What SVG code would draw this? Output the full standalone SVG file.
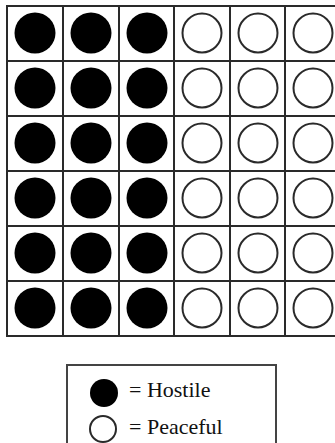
<svg xmlns="http://www.w3.org/2000/svg" width="335" height="443" viewBox="0 0 335 443">
<defs>
<style>
.grid{stroke:#2a2a2a;stroke-width:2;fill:none}
.h{fill:#000}
.p{fill:#fff;stroke:#2a2a2a;stroke-width:2}
.t{font-family:"Liberation Serif","Times New Roman",serif;font-size:22px;fill:#111}
</style>
<circle id="hc" r="20.5" class="h"/>
<circle id="pc" r="19.5" class="p"/>
</defs>
<rect width="335" height="443" fill="#fff"/>
<g id="grid">
<rect class="grid" x="7" y="6" width="334" height="330"/>
<path class="grid" d="M63 6V336M119 6V336M174 6V336M230 6V336M285 6V336M7 61H341M7 116H341M7 171H341M7 226H341M7 281H341"/>
</g>
<g id="hostile">
<use href="#hc" x="35" y="33"/><use href="#hc" x="91" y="33"/><use href="#hc" x="147" y="33"/>
<use href="#hc" x="35" y="88"/><use href="#hc" x="91" y="88"/><use href="#hc" x="147" y="88"/>
<use href="#hc" x="35" y="143"/><use href="#hc" x="91" y="143"/><use href="#hc" x="147" y="143"/>
<use href="#hc" x="35" y="198"/><use href="#hc" x="91" y="198"/><use href="#hc" x="147" y="198"/>
<use href="#hc" x="35" y="253"/><use href="#hc" x="91" y="253"/><use href="#hc" x="147" y="253"/>
<use href="#hc" x="35" y="308"/><use href="#hc" x="91" y="308"/><use href="#hc" x="147" y="308"/>
</g>
<g id="peaceful">
<use href="#pc" x="202" y="33"/><use href="#pc" x="258" y="33"/><use href="#pc" x="313" y="33"/>
<use href="#pc" x="202" y="88"/><use href="#pc" x="258" y="88"/><use href="#pc" x="313" y="88"/>
<use href="#pc" x="202" y="143"/><use href="#pc" x="258" y="143"/><use href="#pc" x="313" y="143"/>
<use href="#pc" x="202" y="198"/><use href="#pc" x="258" y="198"/><use href="#pc" x="313" y="198"/>
<use href="#pc" x="202" y="253"/><use href="#pc" x="258" y="253"/><use href="#pc" x="313" y="253"/>
<use href="#pc" x="202" y="308"/><use href="#pc" x="258" y="308"/><use href="#pc" x="313" y="308"/>
</g>
<g id="legend">
<rect x="67" y="365" width="209" height="90" fill="#fff" stroke="#444" stroke-width="2"/>
<circle cx="104" cy="393" r="14" class="h"/>
<circle cx="103" cy="429" r="13" class="p" stroke-width="1.8"/>
<text class="t" x="129" y="397">= Hostile</text>
<text class="t" x="129" y="434">= Peaceful</text>
</g>
</svg>
